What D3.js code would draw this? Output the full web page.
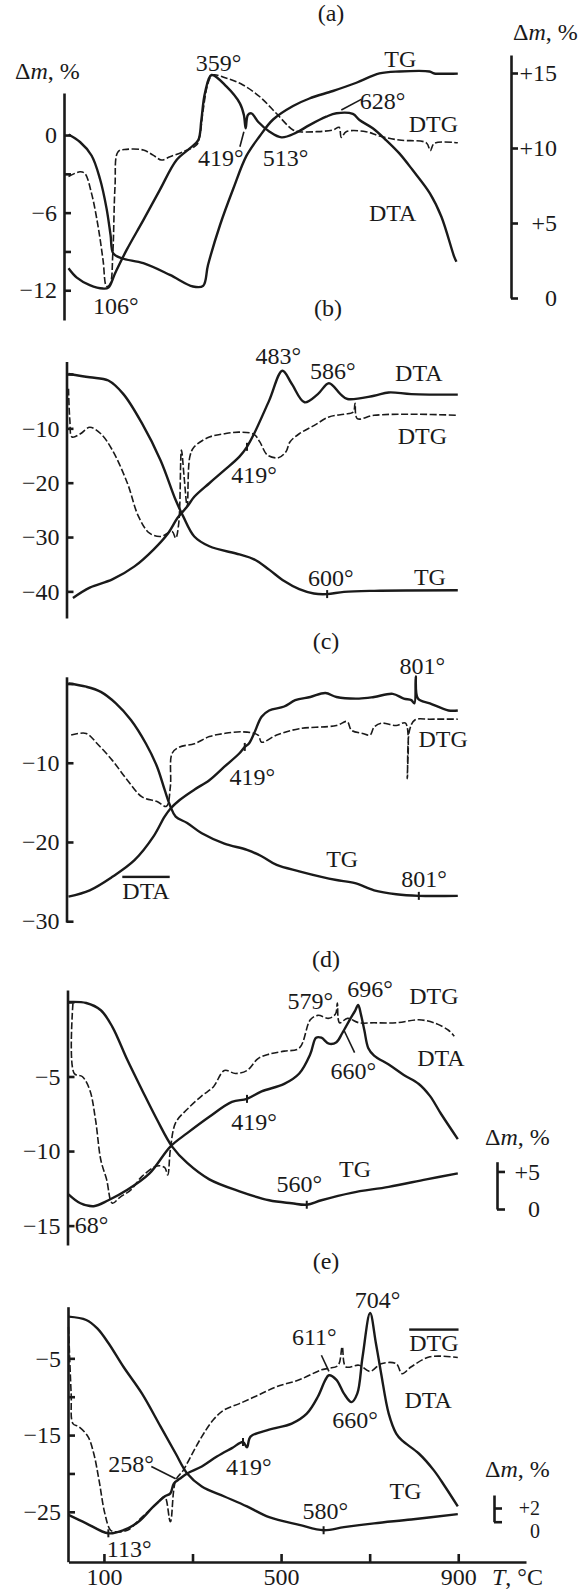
<!DOCTYPE html>
<html>
<head>
<meta charset="utf-8">
<script src="https://cdn.jsdelivr.net/npm/d3@7"></script>
<style>
  body { margin: 0; background: #fff; }
  svg { display: block; }
  text { font-family: 'Liberation Serif', 'Times New Roman', serif; font-size: 24px; fill: #1a1a1a; }
</style>
</head>
<body>
<svg id="chart" width="587" height="1592"></svg>
<script>
// temperature axis, °C
const tempTicks = [100, 300, 500, 700, 900]
const tempLabels = [100, 500, 900]

// (a) — TG on the right axis (Δm, %), DTA / DTG in left-axis units
const tgA = [[20, 10.9], [46, 10.4], [72, 9.5], [91, 7.95], [106, 5.96], [115, 4.19], [121, 2.98], [140, 2.65], [189, 2.32], [249, 1.54], [301, 0.77], [324, 0.81], [335, 2.2], [362, 4.85], [392, 7.28], [422, 9.49], [452, 10.8], [482, 11.9], [527, 12.8], [564, 13.3], [617, 13.8], [670, 14.35], [722, 14.97], [767, 15.1], [835, 15.1], [846, 14.97], [899, 14.97]]
const dtaA = [[20, -10.3], [38, -11.0], [68, -11.6], [98, -11.87], [110, -11.8], [125, -10.7], [151, -8.9], [189, -6.58], [226, -4.26], [264, -1.93], [294, -1.03], [313, -0.39], [320, 1.16], [328, 3.23], [343, 4.64], [377, 3.74], [407, 2.45], [416, 1.55], [420, 0.52], [425, 1.55], [433, 1.68], [448, 1.03], [474, 0.26], [501, -0.18], [534, 0.18], [564, 0.77], [602, 1.42], [625, 1.68], [662, 1.63], [677, 1.16], [707, 0.52], [737, -0.39], [767, -1.42], [797, -2.71], [836, -4.51], [862, -6.32], [891, -9.42], [896, -9.8]]
const dtgA = [[20, -3.2], [46, -2.84], [57, -2.97], [72, -4.51], [87, -7.1], [98, -9.67], [106, -11.7], [114, -11.5], [120, -9.2], [125, -4.0], [132, -1.29], [151, -1.11], [189, -1.16], [211, -1.55], [230, -1.93], [249, -1.68], [279, -1.29], [309, -0.77], [316, -0.13], [324, 1.93], [335, 4.0], [345, 4.64], [377, 4.39], [414, 3.87], [452, 2.96], [489, 1.68], [527, 0.39], [542, 0.26], [580, 0.26], [617, 0.39], [631, 0.6], [636, -0.18], [647, 0.26], [692, 0.26], [722, -0.08], [767, -0.39], [828, -0.6], [837, -1.2], [846, -0.64], [899, -0.6]]

// (b)
const tgB = [[20, 0], [68, -0.6], [110, -1.2], [144, -3.7], [186, -9.1], [228, -15.9], [262, -23.2], [279, -26.2], [304, -29.9], [338, -31.7], [406, -33.2], [439, -34.1], [473, -36.0], [507, -38.1], [541, -39.6], [574, -40.4], [604, -40.5], [642, -40.1], [710, -39.9], [899, -39.8]]
const dtaB = [[30, -41.2], [68, -39.3], [119, -37.8], [169, -35.4], [212, -32.3], [245, -29.3], [266, -26.5], [288, -24.4], [304, -22.6], [338, -20.1], [372, -17.7], [406, -15.2], [423, -13.4], [439, -11.0], [473, -4.9], [503, 0.6], [524, -1.8], [553, -5.2], [583, -3.7], [608, -1.7], [634, -3.7], [650, -4.6], [710, -4.0], [743, -3.4], [794, -3.7], [899, -3.8]]
const dtgB = [[20, -2.7], [23, -8.5], [28, -11.6], [47, -11.0], [68, -9.8], [93, -11.0], [119, -14.0], [153, -20.1], [178, -26.2], [203, -29.3], [228, -29.9], [254, -29.0], [262, -30.2], [269, -27.4], [275, -14.0], [281, -18.9], [288, -24.4], [294, -15.2], [304, -13.4], [338, -11.6], [372, -11.0], [406, -10.7], [439, -11.1], [452, -12.5], [469, -14.9], [494, -15.4], [511, -14.3], [520, -12.5], [541, -11.0], [574, -9.5], [608, -7.9], [642, -7.4], [663, -7.0], [667, -5.4], [672, -8.2], [710, -7.6], [794, -7.4], [899, -7.6]]

// (c)
const tgC = [[20, 0], [60, -0.4], [93, -1.05], [127, -2.5], [161, -4.6], [195, -7.6], [220, -10.5], [237, -13.4], [250, -15.5], [262, -16.8], [288, -17.6], [321, -18.9], [372, -20.2], [423, -21.0], [456, -21.8], [490, -22.9], [541, -23.7], [591, -24.4], [625, -24.8], [667, -25.2], [710, -26.1], [760, -26.6], [811, -26.8], [899, -26.8]]
const dtaC = [[20, -26.9], [68, -26.1], [119, -24.4], [169, -22.3], [212, -19.3], [237, -16.8], [250, -15.8], [271, -14.7], [304, -13.4], [338, -12.2], [372, -10.5], [406, -8.8], [418, -8.0], [427, -7.6], [439, -6.3], [456, -4.2], [473, -3.4], [507, -2.9], [532, -2.1], [566, -1.7], [600, -1.2], [625, -1.7], [676, -1.9], [710, -1.7], [752, -1.3], [777, -1.9], [794, -2.1], [801, -2.5], [804, 0.9], [809, -1.9], [836, -2.5], [878, -3.4], [899, -3.4]]
const dtgC = [[26, -6.5], [60, -6.3], [85, -7.6], [119, -9.7], [153, -12.2], [186, -14.3], [220, -14.9], [241, -15.5], [250, -13.0], [254, -8.8], [271, -8.0], [304, -7.6], [338, -6.7], [372, -6.3], [414, -6.1], [448, -6.5], [456, -7.4], [490, -6.5], [541, -5.7], [625, -5.3], [649, -4.8], [659, -5.9], [684, -6.3], [701, -6.5], [710, -5.5], [726, -5.0], [760, -5.3], [781, -5.0], [785, -12.0], [790, -5.9], [802, -4.6], [836, -4.5], [899, -4.5]]

// (d)
const tgD = [[20, 0], [60, -0.07], [93, -0.56], [119, -1.67], [153, -3.9], [186, -5.9], [220, -7.9], [254, -9.7], [288, -10.8], [338, -11.9], [406, -12.7], [473, -13.3], [524, -13.5], [558, -13.6], [591, -13.3], [659, -12.8], [743, -12.4], [828, -11.9], [899, -11.5]]
const dtaD = [[20, -12.9], [47, -13.5], [77, -13.7], [110, -13.3], [153, -12.6], [203, -11.5], [250, -9.7], [288, -8.8], [338, -7.7], [389, -6.7], [423, -6.5], [456, -6.0], [507, -5.5], [541, -4.8], [566, -3.5], [579, -2.4], [591, -2.4], [608, -2.8], [625, -2.7], [638, -2.1], [655, -1.2], [667, -0.6], [674, -0.2], [680, -0.8], [688, -1.9], [697, -3.1], [710, -3.6], [743, -4.2], [777, -4.9], [811, -5.5], [836, -6.3], [861, -7.5], [899, -9.2]]
const dtgD = [[30, -0.1], [33, -4.8], [51, -5.0], [68, -5.9], [81, -7.9], [93, -10.6], [106, -11.9], [119, -13.5], [136, -13.1], [161, -12.6], [186, -11.7], [220, -11.0], [237, -11.1], [244, -11.6], [250, -9.9], [262, -8.1], [288, -7.2], [321, -6.3], [347, -5.7], [372, -4.6], [397, -4.8], [423, -4.6], [448, -3.8], [473, -3.5], [507, -3.3], [541, -3.1], [566, -1.2], [583, -0.9], [608, -1.1], [623, -0.8], [627, -0.07], [632, -1.4], [650, -1.1], [676, -1.4], [710, -1.4], [760, -1.4], [811, -1.2], [845, -1.4], [878, -1.9], [891, -2.3]]

// (e)
const tgE = [[20, 0.43], [60, 0], [85, -1.1], [110, -3.0], [144, -6.1], [186, -9.6], [228, -13.9], [262, -17.4], [288, -20.0], [321, -21.7], [372, -23.0], [423, -24.3], [473, -25.7], [541, -26.7], [596, -27.4], [642, -27.0], [710, -26.5], [794, -26.0], [899, -25.3]]
const dtaE = [[20, -25.4], [60, -26.5], [110, -27.8], [144, -27.4], [178, -26.3], [212, -24.3], [237, -23.0], [250, -22.6], [258, -21.3], [271, -20.7], [288, -20.0], [321, -19.1], [355, -17.8], [389, -16.7], [414, -15.9], [423, -16.6], [431, -15.2], [473, -14.3], [524, -13.5], [558, -12.2], [583, -10.0], [600, -7.8], [608, -7.2], [625, -7.8], [642, -9.6], [659, -10.7], [672, -9.6], [684, -4.8], [701, 0.9], [714, -3.0], [726, -7.0], [743, -12.2], [760, -14.8], [773, -15.7], [811, -17.4], [845, -19.6], [870, -21.7], [899, -24.3]]
const dtgE = [[20, -0.9], [26, -9.6], [30, -13.5], [43, -13.9], [64, -15.2], [77, -17.4], [89, -20.9], [102, -25.2], [115, -27.4], [127, -27.6], [153, -27.4], [186, -25.7], [220, -23.9], [237, -23.0], [250, -26.3], [262, -20.9], [279, -19.6], [296, -17.8], [321, -15.2], [347, -13.0], [372, -11.7], [406, -10.9], [448, -9.8], [490, -8.7], [541, -7.8], [591, -6.5], [608, -6.3], [629, -5.9], [638, -3.5], [646, -6.1], [676, -5.9], [701, -6.7], [726, -5.7], [760, -5.7], [773, -7.0], [794, -6.1], [836, -4.8], [899, -4.9]]

// annotations: [text, T, value, overline?]
const notesA = [['359°', 359, 5.6], ['TG', 769, 5.9], ['628°', 729, 2.7], ['DTG', 844, 0.85], ['419°', 364, -1.78], ['513°', 510, -1.78], ['DTA', 752, -5.96], ['106°', 127, -13.2]]
const notesB = [['483°', 494, 3.35], ['586°', 617, 0.6], ['DTA', 811, 0.3], ['DTG', 819, -11.3], ['419°', 439, -18.6], ['600°', 612, -37.5], ['TG', 836, -37.2]]
const notesC = [['801°', 819, 2.3], ['DTG', 866, -6.9], ['419°', 435, -11.8], ['TG', 638, -22.1], ['DTA', 195, -26.1, true], ['801°', 823, -24.6]]
const notesD = [['579°', 566, 0.1], ['696°', 701, 0.9], ['DTG', 845, 0.45], ['DTA', 861, -3.7], ['660°', 663, -4.6], ['419°', 439, -8.0], ['560°', 541, -12.2], ['TG', 667, -11.2], ['68°', 72, -14.9]]
const notesE = [['704°', 718, 2.6], ['611°', 575, -2.2], ['DTG', 845, -3.0, true], ['DTA', 832, -10.4], ['660°', 667, -13.0], ['258°', 161, -18.7], ['419°', 427, -19.1], ['TG', 781, -22.2], ['580°', 600, -24.8], ['113°', 157, -29.8]]

// leader lines and small marks on curves
const leadersA = [[[636, 1.93], [681, 2.76]], [[416, 0.26], [407, -0.9]]]
const leadersD = [[[642, -1.9], [666, -3.4]]]
const leadersE = [[[207, -19.1], [262, -20.7]], [[591, -4.6], [608, -6.7]]]
const marksB = [[604, -40.5], [423, -13.4]]
const marksC = [[811, -26.8], [418, -8.0]]
const marksD = [[558, -13.6], [423, -6.5]]
const marksE = [[596, -27.4], [414, -15.9], [110, -27.8]]

const svg = d3.select('#chart')
const ink = '#1a1a1a'
const x = d3.scaleLinear().domain([20, 1053]).range([68.5, 526])
const fmt = v => v === 0 ? '0' : (v < 0 ? '\u2212' + Math.abs(v) : '+' + v)

const panels = [
  { title: '(a)', tx: 331, ty: 13, ax: 64, yDomain: [3.25, -14.3], yRange: [93, 320],
    ticks: [0, -3, -6, -9, -12], labels: [0, -6, -12],
    curves: [[tgA, 'r'], [dtaA, 's'], [dtgA, 'd']], notes: notesA, leaders: leadersA, marks: [],
    right: { domain: [16.2, 0], range: [55, 298], ticks: [0, 5, 10, 15], ax: 511, lx: 557 } },
  { title: '(b)', tx: 328, ty: 308, ax: 66.5, yDomain: [2.3, -44.9], yRange: [361.5, 618],
    ticks: [0, -10, -20, -30, -40], labels: [-10, -20, -30, -40],
    curves: [[tgB, 's'], [dtaB, 's'], [dtgB, 'd']], notes: notesB, leaders: [], marks: marksB },
  { title: '(c)', tx: 326, ty: 641, ax: 66.5, yDomain: [0.85, -30.1], yRange: [676.8, 922],
    ticks: [0, -10, -20, -30], labels: [-10, -20, -30],
    curves: [[tgC, 's'], [dtaC, 's'], [dtgC, 'd']], notes: notesC, leaders: [], marks: marksC },
  { title: '(d)', tx: 326, ty: 959, ax: 67.5, yDomain: [0.8, -16.3], yRange: [990, 1245],
    ticks: [0, -5, -10, -15], labels: [-5, -10, -15],
    curves: [[tgD, 's'], [dtaD, 's'], [dtgD, 'd']], notes: notesD, leaders: leadersD, marks: marksD,
    bar: { domain: [6.3, 0], range: [1161.7, 1209], ticks: [0, 5], ax: 497, lx: 540, unitY: 1145 } },
  { title: '(e)', tx: 326, ty: 1261, ax: 68, yDomain: [1.73, -31.5], yRange: [1306.7, 1561.7],
    ticks: [-5, -10, -15, -20, -25], labels: [-5, -15, -25],
    curves: [[tgE, 's'], [dtaE, 's'], [dtgE, 'd']], notes: notesE, leaders: leadersE, marks: marksE,
    bar: { domain: [3.9, 0], range: [1495, 1521.7], ticks: [0, 2], ax: 494, lx: 540, unitY: 1477, zeroShift: 9, small: true } }
]

function styleAxis (g, w) {
  g.attr('font-size', null).attr('font-family', null)
  g.select('.domain').attr('stroke', ink).attr('stroke-width', w)
  g.selectAll('.tick line').attr('stroke', ink).attr('stroke-width', w)
  g.selectAll('.tick text').attr('fill', ink)
}

function unitLabel (x0, y0) {
  const t = svg.append('text').attr('x', x0).attr('y', y0)
  t.append('tspan').text('\u0394')
  t.append('tspan').style('font-style', 'italic').text('m')
  t.append('tspan').text(', %')
}

panels.forEach(p => {
  const y = d3.scaleLinear().domain(p.yDomain).range(p.yRange)
  const yR = p.right ? d3.scaleLinear().domain(p.right.domain).range(p.right.range) : null
  const g = svg.append('g')

  // left axis, ticks pointing inward
  const ga = g.append('g').attr('transform', `translate(${p.ax},0)`)
    .call(d3.axisLeft(y).tickValues(p.ticks).tickSizeInner(-7).tickSizeOuter(0).tickPadding(7)
      .tickFormat(v => p.labels.includes(v) ? fmt(v) : ''))
  styleAxis(ga, 2.6)

  g.append('text').attr('x', p.tx).attr('y', p.ty).attr('dy', '0.35em')
    .attr('text-anchor', 'middle').text(p.title)

  // curves
  p.curves.forEach(([data, kind]) => {
    const sc = kind === 'r' ? yR : y
    const line = d3.line().x(d => x(d[0])).y(d => sc(d[1])).curve(d3.curveCatmullRom.alpha(0.5))
    g.append('path').datum(data)
      .attr('d', line)
      .attr('fill', 'none')
      .attr('stroke', ink)
      .attr('stroke-width', kind === 'd' ? 1.6 : 2.4)
      .attr('stroke-dasharray', kind === 'd' ? '7,2.5' : null)
      .attr('stroke-linejoin', 'round')
  })

  g.selectAll('line.leader').data(p.leaders).join('line')
    .attr('x1', d => x(d[0][0])).attr('y1', d => y(d[0][1]))
    .attr('x2', d => x(d[1][0])).attr('y2', d => y(d[1][1]))
    .attr('stroke', ink).attr('stroke-width', 1.6)

  g.selectAll('line.mark').data(p.marks).join('line')
    .attr('x1', d => x(d[0])).attr('x2', d => x(d[0]))
    .attr('y1', d => y(d[1]) - 4).attr('y2', d => y(d[1]) + 4)
    .attr('stroke', ink).attr('stroke-width', 2)

  g.selectAll('text.note').data(p.notes).join('text')
    .attr('x', d => x(d[1])).attr('y', d => y(d[2])).attr('dy', '0.35em')
    .attr('text-anchor', 'middle')
    .style('text-decoration', d => d[3] ? 'overline' : null)
    .text(d => d[0])

  if (p.right) {
    const gr = g.append('g').attr('transform', `translate(${p.right.ax},0)`)
      .call(d3.axisRight(yR).tickValues(p.right.ticks).tickSizeInner(7).tickSizeOuter(0).tickFormat(fmt))
    styleAxis(gr, 2.6)
    gr.selectAll('.tick text').attr('text-anchor', 'end').attr('x', p.right.lx - p.right.ax)
    unitLabel(513, 40)
  }

  if (p.bar) {
    const yb = d3.scaleLinear().domain(p.bar.domain).range(p.bar.range)
    const gb = g.append('g').attr('transform', `translate(${p.bar.ax},0)`)
      .call(d3.axisRight(yb).tickValues(p.bar.ticks).tickSizeInner(8).tickSizeOuter(0).tickFormat(fmt))
    styleAxis(gb, 2.6)
    gb.selectAll('.tick text').attr('text-anchor', 'end').attr('x', p.bar.lx - p.bar.ax)
      .style('font-size', p.bar.small ? '20px' : null)
      .attr('dy', v => v === 0 && p.bar.zeroShift ? `${0.32 + p.bar.zeroShift / 20}em` : '0.32em')
    unitLabel(485, p.bar.unitY)
  }
})

// left unit label of (a)
unitLabel(15, 79)

// temperature axis under (e)
const gx = svg.append('g').attr('transform', 'translate(0,1562)')
  .call(d3.axisBottom(x).tickValues(tempTicks).tickSizeInner(-8).tickSizeOuter(0).tickPadding(6)
    .tickFormat(v => tempLabels.includes(v) ? v : ''))
styleAxis(gx, 2.6)

const tl = svg.append('text').attr('x', 492).attr('y', 1585)
tl.append('tspan').style('font-style', 'italic').text('T')
tl.append('tspan').text(', °C')
</script>
</body>
</html>
